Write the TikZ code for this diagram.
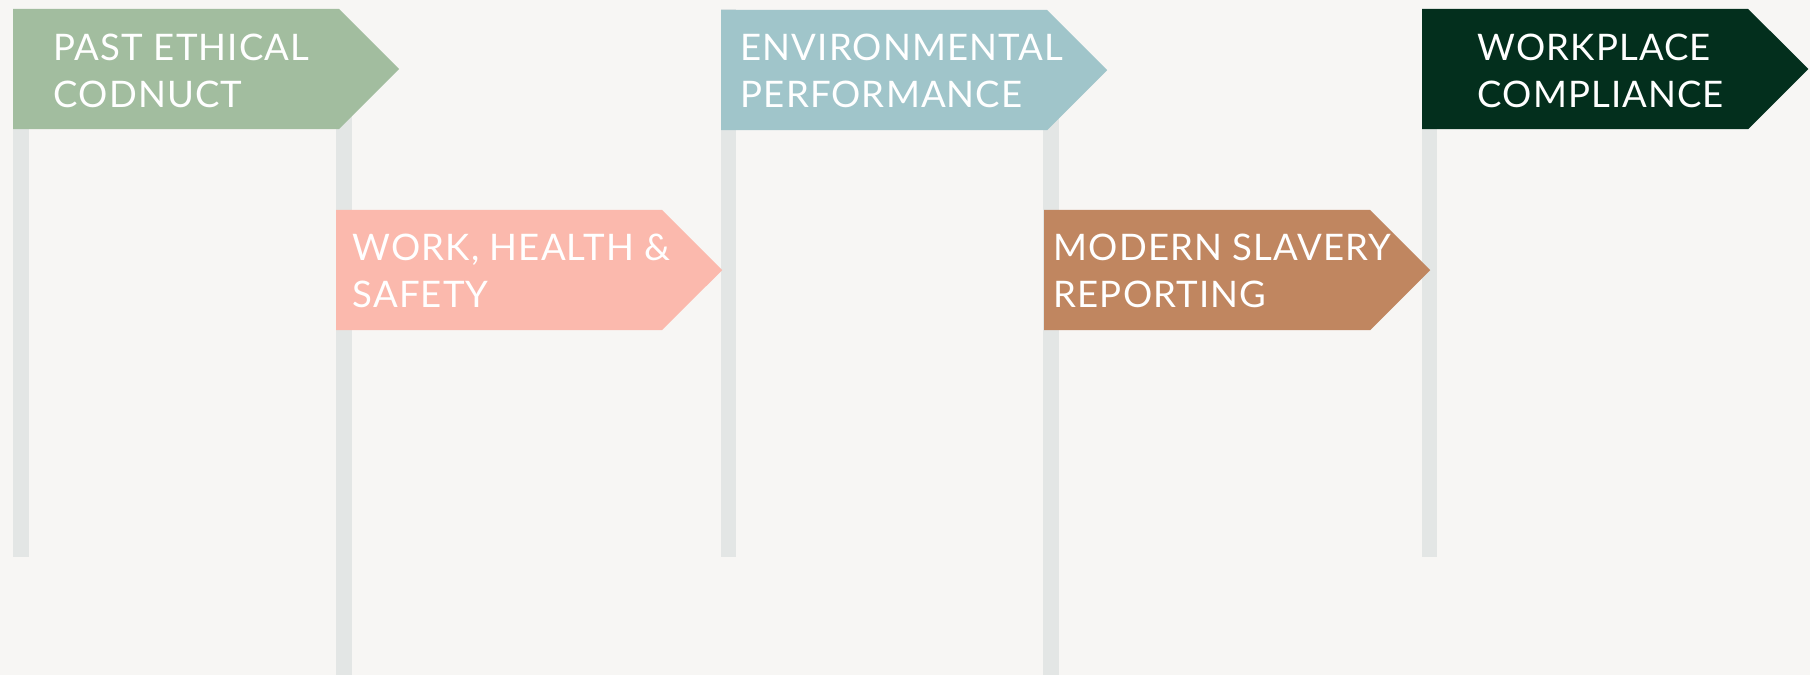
\documentclass[tikz,border=0pt]{standalone}
\usepackage{fontspec}
\setmainfont[LetterSpace=3]{Lato}
\usetikzlibrary{shapes.symbols}
\definecolor{paper}{HTML}{F7F6F4}
\definecolor{postgrey}{HTML}{E3E6E5}
\definecolor{sage}{HTML}{A2BD9F}
\definecolor{salmon}{HTML}{FBB9AD}
\definecolor{duckegg}{HTML}{A0C5CA}
\definecolor{clay}{HTML}{C08660}
\definecolor{forest}{HTML}{032F1D}
\tikzstyle{sign}=[shape=signal,signal to=east,signal pointer angle=90,draw=none,
  minimum width=3.86cm,minimum height=1.2cm,inner sep=0pt,outer sep=0pt,anchor=west]
\tikzstyle{signtext}=[anchor=west,align=left,inner sep=0pt,text=white,
  font=\fontsize{10.4}{13.2}\selectfont]
\tikzstyle{post}=[fill=postgrey]

\begin{document}
\begin{tikzpicture}[x=0.01cm,y=-0.01cm]
  \fill[paper] (0,0) rectangle (1810,675);
  % posts
  \fill[post] (13,9) rectangle (29,557);
  \fill[post] (336,100) rectangle (352,675);
  \fill[post] (721,9) rectangle (736,557);
  \fill[post] (1043,100) rectangle (1059,675);
  \fill[post] (1422,9) rectangle (1437,557);
  % signs, top row
  \path node[sign,fill=sage] (S1) at (13,69) {}
        node[signtext] (T1) at (53,71) {PAST ETHICAL\\CODNUCT};
  \path node[sign,fill=duckegg] (S3) at (721,70) {}
        node[signtext] (T3) at (740,71) {ENVIRONMENTAL\\PERFORMANCE};
  \path node[sign,fill=forest] (S5) at (1422,69) {}
        node[signtext] (T5) at (1477,71) {WORKPLACE\\COMPLIANCE};
  % signs, lower row
  \path node[sign,fill=salmon] (S2) at (336,270) {}
        node[signtext] (T2) at (352,271) {WORK, HEALTH \&\\SAFETY};
  \path node[sign,fill=clay] (S4) at (1044,270) {}
        node[signtext] (T4) at (1053,271) {MODERN SLAVERY\\REPORTING};
\end{tikzpicture}
\end{document}
